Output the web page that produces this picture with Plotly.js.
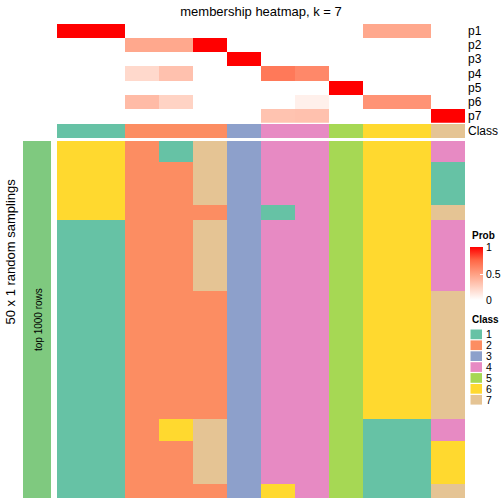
<!DOCTYPE html>
<html>
<head>
<meta charset="utf-8">
<script src="https://cdn.plot.ly/plotly-3.0.1.min.js"></script>
<style>html,body{margin:0;padding:0;background:#fff;}#chart{width:504px;height:504px;}</style>
</head>
<body>
<div id="chart"></div>
<script>
// ---------- data ----------
const columnIds = [0,1,2,3,4,5,6,7,8,9,10,11];
const probRowLabels = ['p1','p2','p3','p4','p5','p6','p7'];
const probP1 = [1,1,0,0,0,0,0,0,0,0.45,0.45,0];
const probP2 = [0,0,0.45,0.45,1,0,0,0,0,0,0,0];
const probP3 = [0,0,0,0,0,1,0,0,0,0,0,0];
const probP4 = [0,0,0.2,0.32,0,0,0.67,0.6,0,0,0,0];
const probP5 = [0,0,0,0,0,0,0,0,1,0,0,0];
const probP6 = [0,0,0.35,0.23,0,0,0,0.08,0,0.55,0.55,0];
const probP7 = [0,0,0,0,0,0,0.31,0.32,0,0,0,1];
const classRow = [1,1,2,2,2,3,4,4,5,6,6,7];
const classLabels = ['1','2','3','4','5','6','7'];
const classColors = ['#66C2A5','#FC8D62','#8DA0CB','#E78AC3','#A6D854','#FFD92F','#E5C494'];

// bottom heatmap: 50 samplings (rows) for each of the 12 columns
const col1  = [6,6,6,6,6,6,6,6,6,6, 6,1,1,1,1,1,1,1,1,1, 1,1,1,1,1,1,1,1,1,1, 1,1,1,1,1,1,1,1,1,1, 1,1,1,1,1,1,1,1,1,1];
const col2  = [6,6,6,6,6,6,6,6,6,6, 6,1,1,1,1,1,1,1,1,1, 1,1,1,1,1,1,1,1,1,1, 1,1,1,1,1,1,1,1,1,1, 1,1,1,1,1,1,1,1,1,1];
const col3  = [2,2,2,2,2,2,2,2,2,2, 2,2,2,2,2,2,2,2,2,2, 2,2,2,2,2,2,2,2,2,2, 2,2,2,2,2,2,2,2,2,2, 2,2,2,2,2,2,2,2,2,2];
const col4  = [1,1,1,2,2,2,2,2,2,2, 2,2,2,2,2,2,2,2,2,2, 2,2,2,2,2,2,2,2,2,2, 2,2,2,2,2,2,2,2,2,6, 6,6,2,2,2,2,2,2,2,2];
const col5  = [7,7,7,7,7,7,7,7,7,2, 2,7,7,7,7,7,7,7,7,7, 7,2,2,2,2,2,2,2,2,2, 2,2,2,2,2,2,2,2,2,7, 7,7,7,7,7,7,7,7,2,2];
const col6  = [3,3,3,3,3,3,3,3,3,3, 3,3,3,3,3,3,3,3,3,3, 3,3,3,3,3,3,3,3,3,3, 3,3,3,3,3,3,3,3,3,3, 3,3,3,3,3,3,3,3,3,3];
const col7  = [4,4,4,4,4,4,4,4,4,1, 1,4,4,4,4,4,4,4,4,4, 4,4,4,4,4,4,4,4,4,4, 4,4,4,4,4,4,4,4,4,4, 4,4,4,4,4,4,4,4,6,6];
const col8  = [4,4,4,4,4,4,4,4,4,4, 4,4,4,4,4,4,4,4,4,4, 4,4,4,4,4,4,4,4,4,4, 4,4,4,4,4,4,4,4,4,4, 4,4,4,4,4,4,4,4,4,4];
const col9  = [5,5,5,5,5,5,5,5,5,5, 5,5,5,5,5,5,5,5,5,5, 5,5,5,5,5,5,5,5,5,5, 5,5,5,5,5,5,5,5,5,5, 5,5,5,5,5,5,5,5,5,5];
const col10 = [6,6,6,6,6,6,6,6,6,6, 6,6,6,6,6,6,6,6,6,6, 6,6,6,6,6,6,6,6,6,6, 6,6,6,6,6,6,6,6,6,1, 1,1,1,1,1,1,1,1,1,1];
const col11 = [6,6,6,6,6,6,6,6,6,6, 6,6,6,6,6,6,6,6,6,6, 6,6,6,6,6,6,6,6,6,6, 6,6,6,6,6,6,6,6,6,1, 1,1,1,1,1,1,1,1,1,1];
const col12 = [4,4,4,1,1,1,1,1,1,7, 7,4,4,4,4,4,4,4,4,4, 4,7,7,7,7,7,7,7,7,7, 7,7,7,7,7,7,7,7,7,4, 4,4,6,6,6,6,6,6,7,7];

const probTicks = [0, 0.5, 1];
const probTickText = ['0', '0.5', '1'];

// ---------- build ----------
const FONT = 'Liberation Sans, Arial, Helvetica, sans-serif';
const cols = [col1,col2,col3,col4,col5,col6,col7,col8,col9,col10,col11,col12];
const nSamp = col1.length;
const sampIdx = [...Array(nSamp).keys()];
const zBottom = sampIdx.map(r => cols.map(c => c[r]));
const zProb = [probP1,probP2,probP3,probP4,probP5,probP6,probP7];

const probScale = [[0,'rgb(255,255,255)'],[0.25,'rgb(255,207,191)'],[0.5,'rgb(255,158,129)'],[0.75,'rgb(255,103,70)'],[1,'rgb(255,0,0)']];
const classScale = [];
classColors.forEach((c,i) => { classScale.push([i/7, c]); classScale.push([(i+1)/7, c]); });

// pixel helpers (plot area: x 57..465, y 24..498)
const L = 57, R = 465, T = 24, B = 498;
const px = x => (x - L) / (R - L);
const py = y => (B - y) / (B - T);

// colour bar geometry (pixels)
const CB_TOP = 247.5, CB_BOTTOM = 300.5;
const cbY = v => CB_BOTTOM - v * (CB_BOTTOM - CB_TOP);

const traces = [
  {type:'heatmap', x: columnIds, y: probRowLabels, z: zProb, xaxis:'x', yaxis:'y3',
   colorscale: probScale, zmin:0, zmax:1, hoverinfo:'skip',
   colorbar: {x: px(469.5), xanchor:'left', y: py((CB_TOP + CB_BOTTOM) / 2), yanchor:'middle',
     len: CB_BOTTOM - CB_TOP, lenmode:'pixels', thickness: 13, thicknessmode:'pixels',
     xpad:0, ypad:0, outlinewidth:0, tickvals: probTicks, ticktext: probTickText,
     ticks:'inside', ticklen:3, tickcolor:'#ffffff', tickwidth:1, showticklabels:false}},
  {type:'heatmap', x: columnIds, y: ['Class'], z: [classRow], xaxis:'x', yaxis:'y2',
   colorscale: classScale, zmin:0.5, zmax:7.5, showscale:false, hoverinfo:'skip'},
  {type:'heatmap', x: columnIds, y: sampIdx, z: zBottom, xaxis:'x', yaxis:'y',
   colorscale: classScale, zmin:0.5, zmax:7.5, showscale:false, hoverinfo:'skip'}
];

const shapes = [];
const annotations = [];
// left annotation bar
shapes.push({type:'rect', xref:'paper', yref:'paper', x0: px(23), x1: px(51), y0: py(141), y1: py(498),
  fillcolor:'#7FC97F', line:{width:0}});
annotations.push({xref:'paper', yref:'paper', x: px(38.5), y: py(319.5), text:'top 1000 rows', textangle:-90,
  showarrow:false, font:{family:FONT, size:10, color:'#000'}, xanchor:'center', yanchor:'middle'});
annotations.push({xref:'paper', yref:'paper', x: px(10), y: py(251.5), text:'50 x 1 random samplings', textangle:-90,
  showarrow:false, font:{family:FONT, size:13, color:'#000'}, xanchor:'center', yanchor:'middle'});
// colour bar labels
probTicks.forEach((v, i) => {
  annotations.push({xref:'paper', yref:'paper', x: px(484), y: py(cbY(v)), text: probTickText[i], showarrow:false,
    xanchor:'left', yanchor:'middle', font:{family:FONT, size:10.5, color:'#000'}});
});
// legend titles
annotations.push({xref:'paper', yref:'paper', x: px(469.5), y: py(235), text:'<b>Prob</b>', showarrow:false,
  xanchor:'left', yanchor:'middle', font:{family:FONT, size:10, color:'#000'}});
annotations.push({xref:'paper', yref:'paper', x: px(469.5), y: py(320), text:'<b>Class</b>', showarrow:false,
  xanchor:'left', yanchor:'middle', font:{family:FONT, size:10, color:'#000'}});
classLabels.forEach((lab, i) => {
  const yTop = 329 + 10.9 * i;
  shapes.push({type:'rect', xref:'paper', yref:'paper', x0: px(470.5), x1: px(482), y0: py(yTop + 10.2), y1: py(yTop + 0.5),
    fillcolor: classColors[i], line:{width:0}});
  annotations.push({xref:'paper', yref:'paper', x: px(484), y: py(yTop + 5.4), text: lab, showarrow:false,
    xanchor:'left', yanchor:'middle', font:{family:FONT, size:10.5, color:'#000'}});
});

const layout = {
  width:504, height:504,
  margin:{l:L, r:504-R, t:T, b:504-B, pad:0, autoexpand:false},
  paper_bgcolor:'#ffffff', plot_bgcolor:'#ffffff',
  font:{family:FONT, color:'#000'},
  title:{text:'membership heatmap, k = 7', x:0.5, xref:'paper', xanchor:'center', y: 1 - 11/504, yref:'container', yanchor:'middle',
    font:{family:FONT, size:13, color:'#000'}},
  showlegend:false,
  xaxis:{range:[-0.5, 11.5], showticklabels:false, showgrid:false, zeroline:false, ticks:'', fixedrange:true, automargin:false},
  yaxis:{domain:[0, py(141)], range:[nSamp - 0.5, -0.5], showticklabels:false, showgrid:false, zeroline:false, ticks:'', anchor:'x', automargin:false},
  yaxis2:{domain:[py(138), py(124)], type:'category', side:'right', anchor:'x', showgrid:false, zeroline:false, ticks:'', automargin:false,
    ticklabelstandoff:2, tickfont:{family:FONT, size:12, color:'#000'}},
  yaxis3:{domain:[py(122.7), 1], type:'category', categoryorder:'array', categoryarray: probRowLabels,
    range:[6.5, -0.5], side:'right', anchor:'x', showgrid:false, zeroline:false, ticks:'', automargin:false,
    ticklabelstandoff:2, tickfont:{family:FONT, size:12, color:'#000'}},
  shapes: shapes,
  annotations: annotations
};

Plotly.newPlot('chart', traces, layout, {staticPlot:true, displayModeBar:false});
</script>
</body>
</html>
